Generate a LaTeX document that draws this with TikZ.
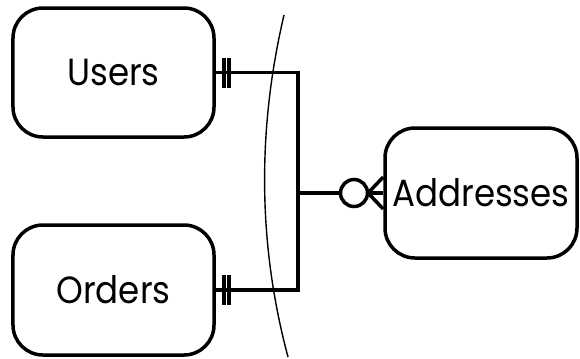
\documentclass[tikz,border=0pt]{standalone}
\usepackage{fontspec}
\setmainfont{Poppins}[FakeStretch=0.9]
\begin{document}
\tikzset{
  entity/.style={draw=black, line width=3.5bp, rounded corners=30bp, font=\fontsize{38}{42}\selectfont},
  link/.style={line width=3.5bp}
}
\begin{tikzpicture}[x=1bp, y=-1bp]
\useasboundingbox (0,0) rectangle (580,358);
\node [entity, minimum width=201bp, minimum height=129bp] (users) at (113.5,72.5) {Users};
\node [entity, minimum width=201bp, minimum height=130bp] (orders) at (113.5,290) {Orders};
\node [entity, minimum width=192bp, minimum height=130bp] (addr) at (481,193) {Addresses};
\coordinate (join) at (298,193);
% relationship lines
\draw [link] (users.east) -| (join) |- (orders.east);
\node [circle, draw=black, line width=3.5bp, minimum size=27bp, inner sep=0pt] (ring) at (354,193) {};
\draw [link] (join) -- (ring.west);
\draw [link] (ring.east) -- (addr.west);
% crow's foot
\coordinate (toe) at (368,193);
\draw [link] (toe) -- ([yshift=-16bp]addr.west);
\draw [link] (toe) -- ([yshift=16bp]addr.west);
% one and only one
\foreach \n in {users, orders} {
  \draw [link] ([xshift=8bp,yshift=-15bp]\n.east) -- ([xshift=8bp,yshift=15bp]\n.east);
  \draw [link] ([xshift=13bp,yshift=-15bp]\n.east) -- ([xshift=13bp,yshift=15bp]\n.east);
}
% boundary
\draw [line width=1.4bp] (284,15) .. controls (257,130) and (258,245) .. (288,357);
\end{tikzpicture}
\end{document}
